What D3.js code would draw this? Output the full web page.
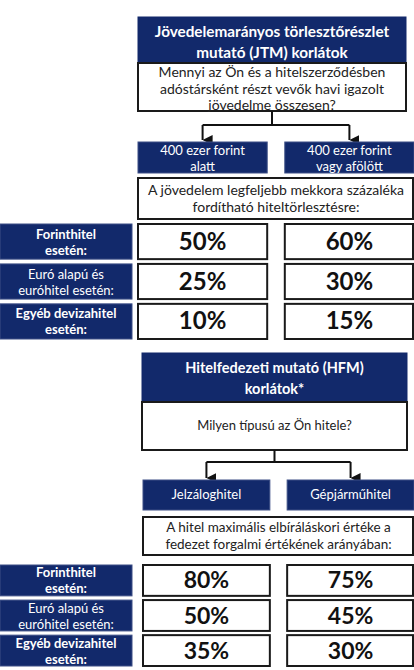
<!DOCTYPE html>
<html><head><meta charset="utf-8">
<script src="https://cdn.jsdelivr.net/npm/d3@7"></script>
<style>html,body{margin:0;padding:0;background:#fff;}svg{display:block;font-family:Lato,"Open Sans",sans-serif;}</style>
</head><body>
<script>
// ---- data ----
const rowLabels = [["Forinthitel","esetén:"],["Euró alapú és","euróhitel esetén:"],["Egyéb devizahitel","esetén:"]];
const rowKeys = ["huf","eur","other"];
const jtmTitle = ["Jövedelemarányos törlesztőrészlet","mutató (JTM) korlátok"];
const jtmQuestion = ["Mennyi az Ön és a hitelszerződésben","adóstársként részt vevők havi igazolt","jövedelme összesen?"];
const jtmCols = [["400 ezer forint","alatt"],["400 ezer forint","vagy afölött"]];
const jtmNote = ["A jövedelem legfeljebb mekkora százaléka","fordítható hiteltörlesztésre:"];
const jtmLow = [50, 25, 10];
const jtmHigh = [60, 30, 15];
const hfmTitle = ["Hitelfedezeti mutató (HFM)","korlátok*"];
const hfmQuestion = ["Milyen típusú az Ön hitele?"];
const hfmCols = [["Jelzáloghitel"],["Gépjárműhitel"]];
const hfmNote = ["A hitel maximális elbíráláskori értéke a","fedezet forgalmi értékének arányában:"];
const hfmMortgage = [80, 50, 35];
const hfmVehicle = [75, 45, 30];

const NAVY = "#12296b";
const W = 414, H = 670;
const svg = d3.select("body").append("svg").attr("width", W).attr("height", H);

const defs = svg.append("defs");
defs.append("marker").attr("id","arr").attr("viewBox","0 0 10 10").attr("refX",5).attr("refY",10)
  .attr("markerWidth",5).attr("markerHeight",5).attr("orient","auto-start-reverse")
  .append("path").attr("d","M0,0 L10,0 L5,10 z").attr("fill","#111");

function lines(g, arr, cx, y0, lh, opt) {
  const t = g.append("text").attr("text-anchor","middle")
    .attr("fill", opt.fill).attr("font-size", opt.size).attr("font-weight", opt.weight || 400);
  arr.forEach((s,i)=> t.append("tspan").attr("x",cx).attr("y",y0 + i*lh).text(s));
  return t;
}
function box(g, x0, y0, x1, y1, fill, stroke, sw) {
  g.append("rect").attr("x",x0).attr("y",y0).attr("width",x1-x0).attr("height",y1-y0)
    .attr("fill",fill).attr("stroke",stroke).attr("stroke-width",sw);
}

function section(cfg) {
  const g = svg.append("g");
  const x = d3.scaleBand().domain([0,1]).range(cfg.colRange).paddingInner(0.12);
  const y = d3.scaleBand().domain(rowKeys).range(cfg.rowRange).paddingInner(0.12);
  // header
  box(g, cfg.hx0, cfg.hy0, cfg.hx1, cfg.hy1, NAVY, NAVY, 1);
  const hcx = (cfg.hx0 + cfg.hx1)/2;
  lines(g, cfg.title, hcx, cfg.titleY, cfg.titleLH, {fill:"#fff", size:cfg.titleSize, weight:700});
  box(g, cfg.hx0, cfg.hy1, cfg.hx1, cfg.qy1, "#fff", "#1a1a1a", 2);
  lines(g, cfg.question, hcx, cfg.qY, cfg.qLH, {fill:"#222", size:cfg.qSize});
  // connector
  const c0 = x(0) + x.bandwidth()/2, c1 = x(1) + x.bandwidth()/2;
  g.append("path").attr("d",`M${hcx},${cfg.qy1} V${cfg.cy} M${c0},${cfg.cy} H${c1}`)
    .attr("stroke","#111").attr("stroke-width",2).attr("fill","none");
  [c0,c1].forEach(c=> g.append("line").attr("x1",c).attr("x2",c).attr("y1",cfg.cy).attr("y2",cfg.colY0-2)
    .attr("stroke","#111").attr("stroke-width",2).attr("marker-end","url(#arr)"));
  // column headers
  cfg.cols.forEach((lab,i)=>{
    box(g, x(i), cfg.colY0, x(i)+x.bandwidth(), cfg.colY1, NAVY, "#3d4f86", 1);
    lines(g, lab, x(i)+x.bandwidth()/2, cfg.colTextY, 16, {fill:"#fff", size:13});
  });
  // note box
  box(g, cfg.colRange[0], cfg.ny0, cfg.colRange[1]-1, cfg.ny1, "#fff", "#1a1a1a", 2);
  lines(g, cfg.note, (cfg.colRange[0]+cfg.colRange[1])/2, cfg.noteY, 17, {fill:"#222", size:cfg.noteSize});
  // rows
  rowKeys.forEach((k,r)=>{
    const y0 = y(k), bh = y.bandwidth();
    box(g, 0, y0, 132, y0+bh, NAVY, "#3d4f86", 1);
    lines(g, rowLabels[r], 66, y0 + bh/2 - 3, 16, {fill:"#fff", size:13, weight: r===1?400:700});
    [cfg.vals[0][r], cfg.vals[1][r]].forEach((v,i)=>{
      box(g, x(i), y0, x(i)+x.bandwidth()-(i===1?1:0), y0+bh, "#fff", "#1a1a1a", 2);
      g.append("text").attr("x", x(i)+x.bandwidth()/2).attr("y", y0+bh/2+8)
        .attr("text-anchor","middle").attr("font-size",cfg.valSize).attr("font-weight",700)
        .attr("fill","#111").text(v + "%");
    });
  });
}

section({
  title: jtmTitle, question: jtmQuestion, cols: jtmCols, note: jtmNote, vals:[jtmLow, jtmHigh],
  hx0:138, hx1:406, hy0:17, hy1:63, titleY:37, titleLH:21, titleSize:15.3,
  qy1:111, qY:77, qLH:16.5, qSize:14,
  cy:125, colY0:142, colY1:173, colTextY:155,
  ny0:178, ny1:219, noteY:195, noteSize:14,
  colRange:[138,414], rowRange:[224,339], valSize:24
});
section({
  title: hfmTitle, question: hfmQuestion, cols: hfmCols, note: hfmNote, vals:[hfmMortgage, hfmVehicle],
  hx0:142, hx1:407, hy0:353, hy1:402, titleY:373, titleLH:21, titleSize:14.5,
  qy1:450, qY:430, qLH:16, qSize:13,
  cy:462, colY0:480, colY1:510, colTextY:499,
  ny0:517, ny1:555, noteY:532, noteSize:13.5,
  colRange:[143,414], rowRange:[565,666], valSize:23
});
</script>
</body></html>
